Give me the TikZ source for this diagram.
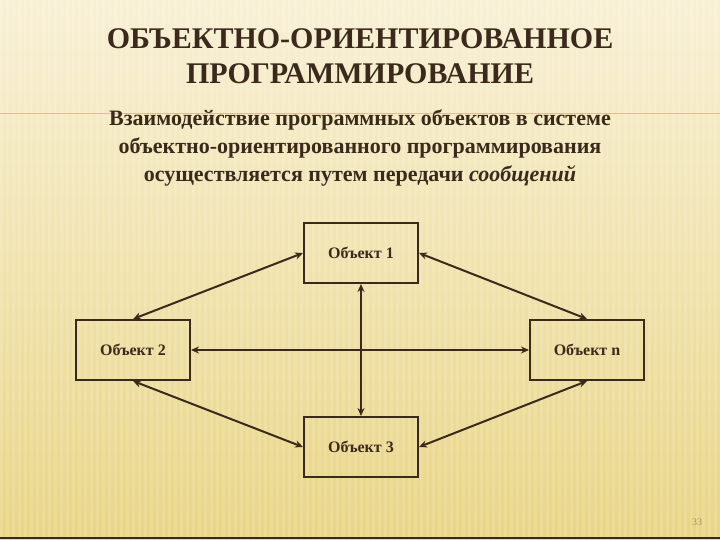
\documentclass[tikz,border=0pt]{standalone}
\usepackage{fontspec}
\usetikzlibrary{arrows.meta}
\setmainfont{Liberation Serif}
\definecolor{ink}{HTML}{3B2A1C}
\definecolor{bgtop}{HTML}{F8F0D4}
\definecolor{bgbot}{HTML}{E9D582}
\begin{document}
\begin{tikzpicture}[x=1pt,y=-1pt,
  obj/.style={draw=ink,line width=2pt,minimum width=114pt,minimum height=60pt,inner sep=0pt,font=\bfseries\fontsize{16}{18}\selectfont,text=ink},
  link/.style={draw=ink,line width=2pt,<->,>={Stealth[length=8pt,width=7pt]}}]
\useasboundingbox (0,0) rectangle (720,540);
\shade[top color=bgtop,bottom color=bgbot] (0,0) rectangle (720,540);
\foreach \i in {0,6,...,714}{\fill[white,opacity=0.15] (\i,0) rectangle (\i+2.5,540);}
\draw[ink,line width=2pt] (0,538) -- (720,538);
\draw[bgbot!80!brown,line width=0.6pt] (0,113) -- (720,113);
\node[text=ink,font=\bfseries\fontsize{30}{35}\selectfont,align=center] (title) at (360,56) {ОБЪЕКТНО-ОРИЕНТИРОВАННОЕ\\ПРОГРАММИРОВАНИЕ};
\node[text=ink,font=\bfseries\fontsize{22}{28}\selectfont,align=center] (sub) at (360,148) {Взаимодействие программных объектов в системе\\объектно-ориентированного программирования\\осуществляется путем передачи \textit{сообщений}};
\node[obj] (o1) at (361,253) {Объект 1};
\node[obj] (o2) at (133,350) {Объект 2};
\node[obj] (on) at (587,350) {Объект n};
\node[obj] (o3) at (361,447) {Объект 3};
\draw[link] (o1.west) -- (o2.north);
\draw[link] (o1.east) -- (on.north);
\draw[link] (o2.south) -- (o3.west);
\draw[link] (on.south) -- (o3.east);
\draw[link] (o2.east) -- (on.west);
\draw[link] (o1.south) -- (o3.north);
\node[text=bgbot!70!black,font=\fontsize{10}{11}\selectfont] (pg) at (697,522) {33};
\end{tikzpicture}
\end{document}
